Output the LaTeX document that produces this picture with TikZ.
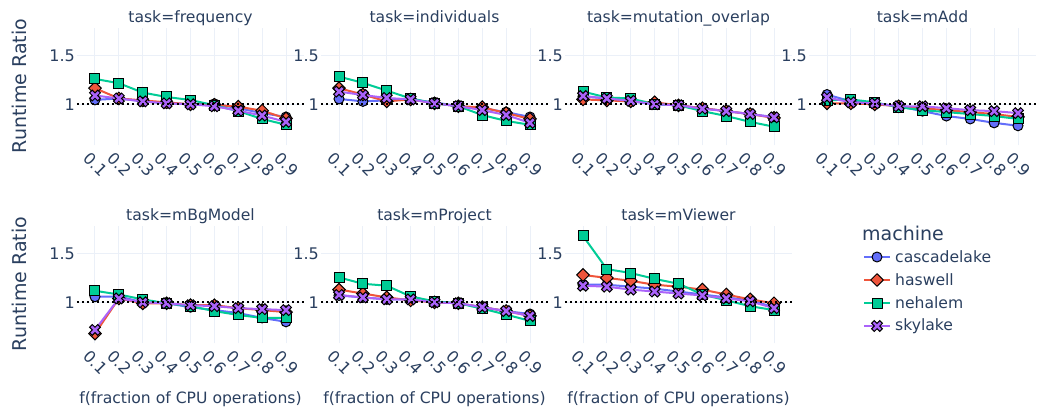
\documentclass[tikz,border=0pt]{standalone}
\usepackage{fontspec}
\setmainfont{DejaVu Sans}
\usepackage{xcolor}
\definecolor{ink}{HTML}{2A3F5F}
\definecolor{gridc}{HTML}{EBF0F8}
\definecolor{casc}{HTML}{636EFA}
\definecolor{hasw}{HTML}{EF553B}
\definecolor{neha}{HTML}{00CC96}
\definecolor{skyl}{HTML}{AB63FA}
\usepackage{tikz}
\usetikzlibrary{shapes.geometric}
\tikzset{
  font=\fontsize{15.6}{18}\selectfont,
  gridline/.style={draw=gridc,line width=1pt},
  refline/.style={draw=black,line width=2pt,dash pattern=on 2.4pt off 2.6pt},
  ytick/.style={text=ink,anchor=east,inner sep=0pt,xshift=-2pt,font=\fontsize{16}{18}\selectfont},
  xtick/.style={text=ink,anchor=north west,inner sep=0pt,rotate=-45,xshift=1pt,yshift=-7pt,
                font=\fontsize{16}{18}\selectfont},
  ftitle/.style={text=ink,anchor=base,inner sep=0pt},
  axtitle/.style={text=ink,inner sep=0pt,font=\fontsize{19}{22}\selectfont},
  xtitle/.style={text=ink,anchor=base,inner sep=0pt},
  serie/.style={line width=2pt,line join=round,line cap=round},
  lcasc/.style={serie,draw=casc},
  lhasw/.style={serie,draw=hasw},
  lneha/.style={serie,draw=neha},
  lskyl/.style={serie,draw=skyl},
  mbase/.style={draw=black,line width=1pt,inner sep=0pt},
  mcasc/.style={mbase,circle,fill=casc,minimum size=10pt},
  mhasw/.style={mbase,diamond,fill=hasw,minimum size=13pt},
  mneha/.style={mbase,rectangle,fill=neha,minimum size=10pt},
  mskyl/.style={draw=black,line width=1pt,fill=skyl,line join=miter},
  legtxt/.style={text=ink,anchor=west,inner sep=0pt},
}
% plotly style "x" marker
\newcommand\xmark[1]{\filldraw[mskyl,shift={#1}] (0pt,2.7pt) -- ++(2.7pt,2.7pt) -- ++(2.7pt,-2.7pt)
  -- ++(-2.7pt,-2.7pt) -- ++(2.7pt,-2.7pt) -- ++(-2.7pt,-2.7pt) -- ++(-2.7pt,2.7pt)
  -- ++(-2.7pt,-2.7pt) -- ++(-2.7pt,2.7pt) -- ++(2.7pt,2.7pt) -- ++(-2.7pt,2.7pt)
  -- ++(2.7pt,2.7pt) -- cycle;}
% one trace: line style, marker style, nine values
\newcommand\trace[3]{%
  \draw[#1] \foreach \v [count=\k] in {#3} {\ifnum\k=1 (0.1,\v) \else -- (\k/10,\v) \fi};
  \foreach \v [count=\k] in {#3} \node[#2] (#2-\k) at (\k/10,\v) {};}
\newcommand\traceX[1]{%
  \draw[lskyl] \foreach \v [count=\k] in {#1} {\ifnum\k=1 (0.1,\v) \else -- (\k/10,\v) \fi};
  \foreach \v [count=\k] in {#1} {\xmark{(\k/10,\v)}}}
% facet: column, zero line (px), title, cascadelake, haswell, nehalem, skylake
\newcommand\facet[7]{%
  \begin{scope}[shift={({71.125pt+244pt*#1},{-#2pt-97.6pt})},x=238.75pt,y=97.6pt]
    \foreach \k in {1,...,9} {
      \draw[gridline] (\k/10,0.583) -- (\k/10,1.78);
      \node[xtick] (xl-\k) at (\k/10,0.583) {0.\k};}
    \draw[gridline] (0.0246,1.5) -- (0.9754,1.5);
    \draw[gridline] (0.0246,1) -- (0.9754,1);
    \node[ytick] (yl-a) at (0.0246,1.5) {1.5};
    \node[ytick] (yl-b) at (0.0246,1) {1};
    \trace{lcasc}{mcasc}{#4}
    \trace{lhasw}{mhasw}{#5}
    \trace{lneha}{mneha}{#6}
    \traceX{#7}
    \draw[refline] (0.0246,1) -- (0.9754,1);
    \node[ftitle] (title-#1) at (0.5,1.78) [yshift=5.5pt] {task=#3};
  \end{scope}}

\begin{document}
\begin{tikzpicture}[x=1pt,y=-1pt]
  \useasboundingbox (0,0) rectangle (1037,407);
  \fill[white] (0,0) rectangle (1037,407);

  \facet{0}{104.3}{frequency}
    {1.045,1.06,1.03,1.01,1.0,1.005,0.96,0.91,0.87}
    {1.165,1.06,1.04,1.02,1.0,0.995,0.975,0.935,0.855}
    {1.26,1.216,1.12,1.075,1.044,0.99,0.93,0.85,0.79}
    {1.09,1.06,1.03,1.01,1.0,0.98,0.935,0.885,0.82}
  \facet{1}{104.3}{individuals}
    {1.055,1.03,1.04,1.05,1.02,0.98,0.96,0.92,0.87}
    {1.165,1.1,1.03,1.05,1.01,0.98,0.97,0.91,0.85}
    {1.284,1.22,1.14,1.06,1.01,0.98,0.89,0.83,0.79}
    {1.13,1.095,1.065,1.05,1.01,0.98,0.94,0.89,0.81}
  \facet{2}{104.3}{mutation\_overlap}
    {1.08,1.06,1.03,1.0,0.99,0.96,0.93,0.9,0.87}
    {1.05,1.04,1.03,1.02,0.99,0.96,0.93,0.9,0.86}
    {1.13,1.07,1.06,1.0,0.99,0.93,0.88,0.82,0.77}
    {1.085,1.06,1.035,1.0,0.99,0.955,0.93,0.9,0.866}
  \facet{3}{104.3}{mAdd}
    {1.10,1.03,1.01,0.98,0.93,0.88,0.85,0.81,0.78}
    {1.01,1.01,1.0,0.98,0.96,0.94,0.92,0.9,0.87}
    {1.04,1.05,1.02,0.97,0.94,0.92,0.9,0.88,0.85}
    {1.07,1.02,1.01,0.98,0.98,0.96,0.94,0.93,0.91}
  \facet{0}{302.3}{mBgModel}
    {1.057,1.06,1.0,0.99,0.95,0.92,0.89,0.84,0.80}
    {0.68,1.04,0.99,0.99,0.97,0.97,0.94,0.92,0.90}
    {1.118,1.08,1.03,0.99,0.96,0.91,0.87,0.84,0.84}
    {0.717,1.04,1.0,0.99,0.97,0.96,0.94,0.93,0.92}
  \facet{1}{302.3}{mProject}
    {1.07,1.05,1.03,1.03,1.0,0.99,0.95,0.91,0.88}
    {1.13,1.09,1.05,1.02,1.0,0.99,0.95,0.91,0.86}
    {1.255,1.19,1.17,1.06,1.01,0.99,0.935,0.874,0.81}
    {1.075,1.05,1.03,1.03,1.0,0.99,0.95,0.91,0.86}
  \facet{2}{302.3}{mViewer}
    {1.18,1.18,1.16,1.14,1.11,1.08,1.05,1.02,0.95}
    {1.28,1.25,1.22,1.18,1.16,1.13,1.08,1.03,0.99}
    {1.68,1.34,1.30,1.24,1.19,1.08,1.02,0.96,0.92}
    {1.17,1.16,1.13,1.11,1.09,1.07,1.04,1.01,0.94}

  % axis titles
  \node[axtitle,rotate=90] (ytop) at (19,86) {Runtime Ratio};
  \node[axtitle,rotate=90] (ybot) at (19,284) {Runtime Ratio};
  \foreach \c in {0,1,2}
    \node[xtitle] (xt-\c) at (190.5+244*\c,403) {f(fraction of CPU operations)};

  % legend
  \node[text=ink,anchor=base west,inner sep=0pt,font=\fontsize{19}{22}\selectfont] (legtitle) at (862,240.5) {machine};
  \coordinate (la) at (864,257); \coordinate (lb) at (864,280);
  \coordinate (lc) at (864,303); \coordinate (ld) at (864,326);
  \draw[lcasc,line cap=butt] (la) -- ++(26,0) node[mcasc,pos=0.5] (lm-a) {};
  \draw[lhasw,line cap=butt] (lb) -- ++(26,0) node[mhasw,pos=0.5] (lm-b) {};
  \draw[lneha,line cap=butt] (lc) -- ++(26,0) node[mneha,pos=0.5] (lm-c) {};
  \draw[lskyl,line cap=butt] (ld) -- ++(26,0);
  \xmark{(877,326)}
  \node[legtxt] (lt-a) at (895,257) {cascadelake};
  \node[legtxt] (lt-b) at (895,280) {haswell};
  \node[legtxt] (lt-c) at (895,303) {nehalem};
  \node[legtxt] (lt-d) at (895,326) {skylake};
\end{tikzpicture}
\end{document}
